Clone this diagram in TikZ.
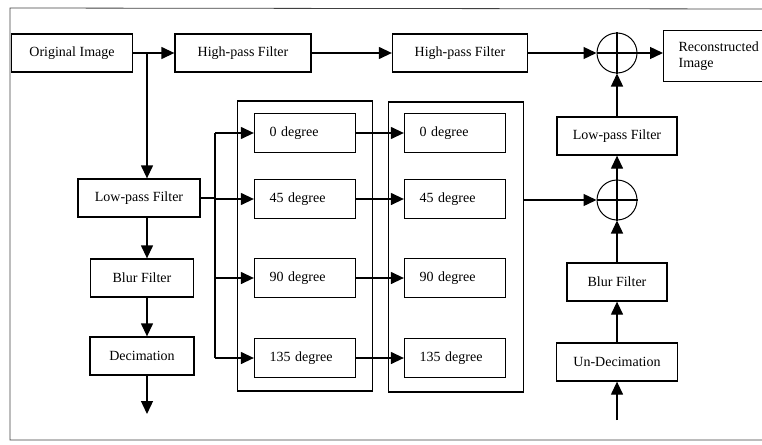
\documentclass[tikz,border=0pt]{standalone}
\usepackage{fontspec}
\setmainfont{Liberation Serif}
\usetikzlibrary{arrows.meta}

\begin{document}
\begin{tikzpicture}[x=1pt, y=-1pt, font=\fontsize{14}{16}\selectfont,
    >={Triangle[length=13pt, width=12pt]}, line width=1.3pt,
    block/.style={draw, minimum height=38pt, inner sep=2pt},
    degbox/.style={draw, minimum width=101pt, minimum height=39pt,
                   text width=71pt, align=left, inner sep=2pt},
    bank/.style={draw, minimum width=135pt, minimum height=290pt},
    plus/.style={draw, circle, minimum size=40pt, inner sep=0pt, line width=1pt}]
  \useasboundingbox (0,0) rectangle (762,444);
  \clip (0,0) rectangle (762,444);
  % page frame, open on the right
  \draw[line width=0.8pt, black!75] (762,9) -- (10,8) -- (10,440) -- (762,440);

  % top row
  \node[block, minimum width=121pt] (orig) at (72,53) {Original Image};
  \node[block, minimum width=136pt] (hpa) at (243,53) {High-pass Filter};
  \node[block, minimum width=135pt] (hpb) at (460,53) {High-pass Filter};
  \node[plus] (suma) at (617,53) {};
  \node[block, anchor=west, minimum width=115pt, minimum height=51pt,
        text width=85pt, align=left] (recon) at (663,56) {Reconstructed\\Image};

  % decomposition, left column
  \coordinate (split) at (147,53);
  \node[block, minimum width=122pt] (lowa) at (139,198) {Low-pass Filter};
  \node[block, minimum width=103pt] (blura) at (142,278) {Blur Filter};
  \node[block, minimum width=104pt] (decim) at (142,356) {Decimation};
  \coordinate (out) at (147,414);

  % two banks of directional filters
  \node[bank] (banka) at (305,246) {};
  \node[bank] (bankb) at (456,247) {};
  \coordinate (fan) at (215,198);

  % reconstruction, right column
  \node[block, minimum width=120pt] (lowb) at (617,136) {Low-pass Filter};
  \node[plus] (sumb) at (617,200) {};
  \node[block, minimum width=100pt] (blurb) at (617,282) {Blur Filter};
  \node[block, minimum width=121pt] (undec) at (617,362) {Un-Decimation};
  \coordinate (in) at (617,420);

  % crosses inside the adders
  \foreach \s in {suma, sumb}
    \draw[line width=2.5pt] (\s.north) -- (\s.south) (\s.west) -- (\s.east);

  \foreach \y/\a/\n in {133/0/a, 199/45/b, 278/90/c, 358/135/d} {
    \node[degbox] (dl\n) at (305,\y) {\a\ degree};
    \node[degbox] (dr\n) at (455,\y) {\a\ degree};
    \draw[->] (fan |- dl\n) -- (dl\n);
    \draw[->] (dl\n) -- (dr\n);
  }

  \draw[->] (orig) -- (hpa);
  \draw[->] (hpa) -- (hpb);
  \draw[->] (hpb) -- (suma);
  \draw[->] (suma) -- (recon.west |- suma);
  \draw[->] (split) -- (split |- lowa.north);
  \draw[->] (lowa.south -| split) -- (split |- blura.north);
  \draw[->] (blura.south -| split) -- (split |- decim.north);
  \draw[->] (decim.south -| split) -- (out);
  \draw (lowa) -- (fan);
  \draw (fan |- dla) -- (fan |- dld);
  \draw[->] (bankb.east |- sumb) -- (sumb);
  \draw[->] (in) -- (undec);
  \draw[->] (undec) -- (blurb);
  \draw[->] (blurb) -- (sumb);
  \draw[->] (sumb) -- (lowb);
  \draw[->] (lowb) -- (suma);
\end{tikzpicture}
\end{document}
